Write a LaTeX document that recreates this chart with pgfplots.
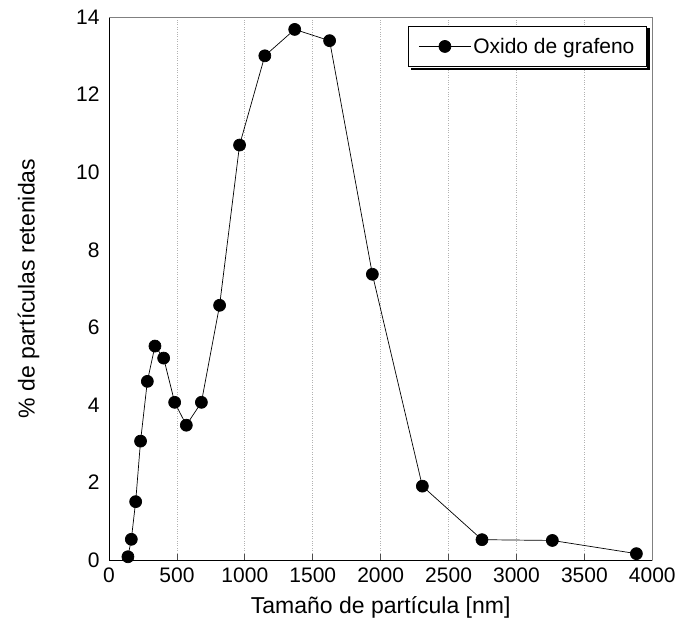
\documentclass[border=0pt]{standalone}
\usepackage{pgfplots}
\pgfplotsset{compat=1.18}
\usepackage{fontspec}
\setmainfont{Liberation Sans}

\begin{document}
\begin{tikzpicture}[x=1pt,y=1pt]
\begin{axis}[
    name=ax,
    scale only axis,
    width=543pt,
    height=543pt,
    xmin=0, xmax=4000,
    ymin=0, ymax=14,
    xtick={0,500,...,4000},
    ytick={0,2,...,14},
    tick align=inside,
    major tick length=6pt,
    ytick style={draw=none},
    xtick style={black!70, line width=0.8pt},
    xmajorgrids,
    grid style={gray!60, dotted, line width=0.8pt},
    axis line style={line width=0.8pt},
    axis x line*=bottom,
    axis y line*=left,
    tick label style={font=\fontsize{21}{23}\selectfont},
    /pgf/number format/assume math mode=true,
    /pgf/number format/1000 sep={},
    xticklabel style={yshift=-4pt},
    yticklabel style={xshift=-6pt},
    xlabel={Tamaño de partícula [nm]},
    ylabel={\% de partículas retenidas},
    label style={font=\fontsize{23}{25}\selectfont},
    xlabel style={at={([yshift=-33pt]axis description cs:0.5,0)}, anchor=north},
    ylabel style={at={([xshift=-66pt]axis description cs:0,0.5)}, anchor=south},
    legend style={at={(0.99,0.984)}, anchor=north east, name=leg,
        font=\fontsize{21}{23}\selectfont, draw=black, line width=0.8pt,
        fill=white, inner xsep=10pt, inner ysep=10pt},
    legend cell align=left,
    legend image code/.code={
        \draw[#1, mark=none] (0pt,0pt) -- (52pt,0pt);
        \draw[#1, only marks] plot coordinates {(26pt,0pt)};
    },
]
\addplot[black, line width=0.7pt, mark=*, mark size=6pt] coordinates {
(139,0.09) (164,0.54) (196,1.51) (232,3.07) (282,4.61) (338,5.52)
(402,5.21) (483,4.07) (569,3.48) (680,4.07) (814,6.57) (961,10.7)
(1147,13.0) (1367,13.68) (1624,13.39) (1939,7.37) (2307,1.91)
(2746,0.53) (3264,0.51) (3883,0.17)
};
\legend{Oxido de grafeno}
\end{axis}
\draw[gray, line width=0.8pt] (ax.north west) -- (ax.north east) -- (ax.south east);
% legend shadow
\fill[black] ([xshift=2.5pt,yshift=-0.4pt]leg.south west) rectangle ([xshift=2.9pt,yshift=-3pt]leg.south east);
\fill[black] ([xshift=0.4pt,yshift=-2.5pt]leg.north east) rectangle ([xshift=3pt,yshift=-3pt]leg.south east);
\path ([shift={(-109pt,-82pt)}]ax.south west) rectangle ([shift={(26pt,17pt)}]ax.north east);
\end{tikzpicture}
\end{document}
